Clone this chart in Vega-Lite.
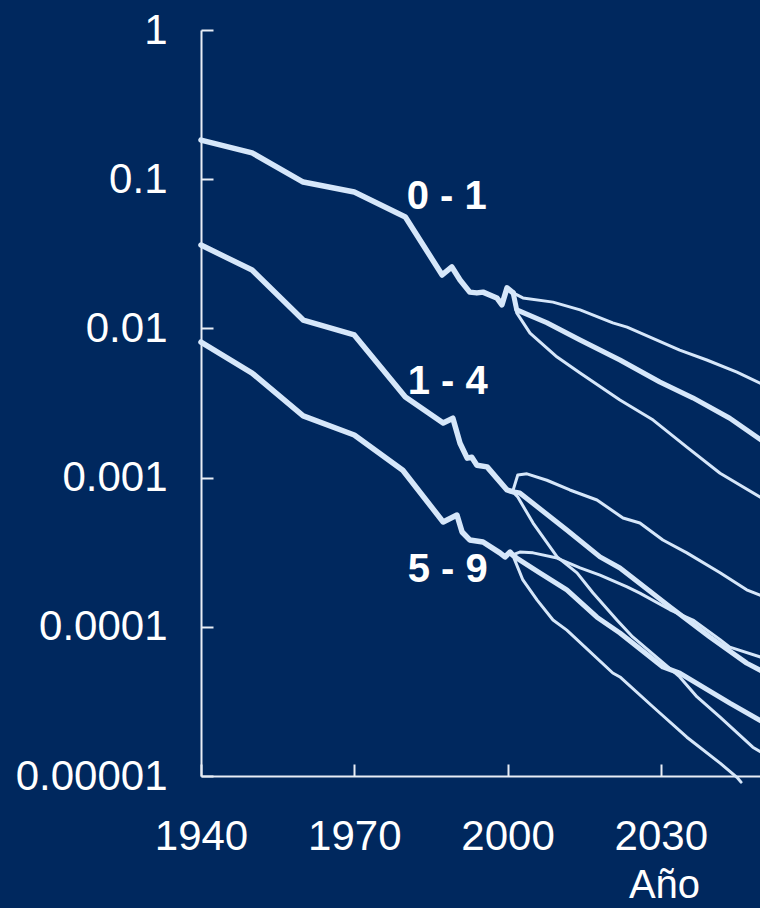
{
  "$schema": "https://vega.github.io/schema/vega-lite/v6.json",
  "width": 562,
  "height": 746,
  "autosize": "none",
  "padding": {"left": 201, "top": 30, "right": 0, "bottom": 132},
  "background": "#00285e",
  "config": {
    "view": {"stroke": null},
    "font": "Liberation Sans, Arial, sans-serif",
    "axis": {
      "domainColor": "#e8edf5",
      "domainWidth": 2,
      "tickColor": "#e8edf5",
      "tickWidth": 2,
      "tickSize": -12,
      "grid": false,
      "labelFlush": false,
      "labelOverlap": false,
      "labelColor": "#ffffff",
      "labelFont": "Liberation Sans, Arial, sans-serif",
      "labelFontSize": 42,
      "titleColor": "#ffffff",
      "titleFont": "Liberation Sans, Arial, sans-serif",
      "titleFontSize": 40,
      "titleFontWeight": "normal"
    }
  },
  "datasets": {
    "tasas": [
      {"grupo": "0 - 1", "tramo": "hist", "anio": 1940, "tasa": 0.183},
      {"grupo": "0 - 1", "tramo": "hist", "anio": 1950, "tasa": 0.150},
      {"grupo": "0 - 1", "tramo": "hist", "anio": 1960, "tasa": 0.0957},
      {"grupo": "0 - 1", "tramo": "hist", "anio": 1970, "tasa": 0.082},
      {"grupo": "0 - 1", "tramo": "hist", "anio": 1980, "tasa": 0.0558},
      {"grupo": "0 - 1", "tramo": "hist", "anio": 1987.2, "tasa": 0.0228},
      {"grupo": "0 - 1", "tramo": "hist", "anio": 1989.1, "tasa": 0.0258},
      {"grupo": "0 - 1", "tramo": "hist", "anio": 1990.7, "tasa": 0.0211},
      {"grupo": "0 - 1", "tramo": "hist", "anio": 1992.6, "tasa": 0.0175},
      {"grupo": "0 - 1", "tramo": "hist", "anio": 1994, "tasa": 0.0173},
      {"grupo": "0 - 1", "tramo": "hist", "anio": 1995.2, "tasa": 0.0175},
      {"grupo": "0 - 1", "tramo": "hist", "anio": 1997.9, "tasa": 0.016},
      {"grupo": "0 - 1", "tramo": "hist", "anio": 1998.9, "tasa": 0.0144},
      {"grupo": "0 - 1", "tramo": "hist", "anio": 1999.9, "tasa": 0.0187},
      {"grupo": "0 - 1", "tramo": "hist", "anio": 2001.1, "tasa": 0.0173},

      {"grupo": "0 - 1", "tramo": "alta", "anio": 2001.1, "tasa": 0.0173},
      {"grupo": "0 - 1", "tramo": "alta", "anio": 2003, "tasa": 0.016},
      {"grupo": "0 - 1", "tramo": "alta", "anio": 2008.9, "tasa": 0.0150},
      {"grupo": "0 - 1", "tramo": "alta", "anio": 2014.2, "tasa": 0.0133},
      {"grupo": "0 - 1", "tramo": "alta", "anio": 2020.6, "tasa": 0.0109},
      {"grupo": "0 - 1", "tramo": "alta", "anio": 2023.4, "tasa": 0.0102},
      {"grupo": "0 - 1", "tramo": "alta", "anio": 2033.7, "tasa": 0.00716},
      {"grupo": "0 - 1", "tramo": "alta", "anio": 2039, "tasa": 0.00614},
      {"grupo": "0 - 1", "tramo": "alta", "anio": 2044.9, "tasa": 0.0051},
      {"grupo": "0 - 1", "tramo": "alta", "anio": 2050, "tasa": 0.0042},

      {"grupo": "0 - 1", "tramo": "media", "anio": 2001.1, "tasa": 0.0173},
      {"grupo": "0 - 1", "tramo": "media", "anio": 2001.8, "tasa": 0.0133},
      {"grupo": "0 - 1", "tramo": "media", "anio": 2007.7, "tasa": 0.0109},
      {"grupo": "0 - 1", "tramo": "media", "anio": 2014.2, "tasa": 0.00836},
      {"grupo": "0 - 1", "tramo": "media", "anio": 2022, "tasa": 0.00614},
      {"grupo": "0 - 1", "tramo": "media", "anio": 2029.8, "tasa": 0.00437},
      {"grupo": "0 - 1", "tramo": "media", "anio": 2036.3, "tasa": 0.00342},
      {"grupo": "0 - 1", "tramo": "media", "anio": 2043.5, "tasa": 0.0025},
      {"grupo": "0 - 1", "tramo": "media", "anio": 2050, "tasa": 0.00175},

      {"grupo": "0 - 1", "tramo": "baja", "anio": 2001.1, "tasa": 0.0173},
      {"grupo": "0 - 1", "tramo": "baja", "anio": 2001.8, "tasa": 0.0127},
      {"grupo": "0 - 1", "tramo": "baja", "anio": 2004.4, "tasa": 0.0093},
      {"grupo": "0 - 1", "tramo": "baja", "anio": 2009.7, "tasa": 0.00643},
      {"grupo": "0 - 1", "tramo": "baja", "anio": 2014.2, "tasa": 0.00502},
      {"grupo": "0 - 1", "tramo": "baja", "anio": 2022, "tasa": 0.00331},
      {"grupo": "0 - 1", "tramo": "baja", "anio": 2028.5, "tasa": 0.00243},
      {"grupo": "0 - 1", "tramo": "baja", "anio": 2035.1, "tasa": 0.0016},
      {"grupo": "0 - 1", "tramo": "baja", "anio": 2041.6, "tasa": 0.00107},
      {"grupo": "0 - 1", "tramo": "baja", "anio": 2050, "tasa": 0.00072},

      {"grupo": "1 - 4", "tramo": "hist", "anio": 1940, "tasa": 0.0362},
      {"grupo": "1 - 4", "tramo": "hist", "anio": 1950, "tasa": 0.0246},
      {"grupo": "1 - 4", "tramo": "hist", "anio": 1960, "tasa": 0.01138},
      {"grupo": "1 - 4", "tramo": "hist", "anio": 1970, "tasa": 0.00904},
      {"grupo": "1 - 4", "tramo": "hist", "anio": 1980, "tasa": 0.00347},
      {"grupo": "1 - 4", "tramo": "hist", "anio": 1987.4, "tasa": 0.00232},
      {"grupo": "1 - 4", "tramo": "hist", "anio": 1989.3, "tasa": 0.0025},
      {"grupo": "1 - 4", "tramo": "hist", "anio": 1990.7, "tasa": 0.0017},
      {"grupo": "1 - 4", "tramo": "hist", "anio": 1992.1, "tasa": 0.00135},
      {"grupo": "1 - 4", "tramo": "hist", "anio": 1993, "tasa": 0.00137},
      {"grupo": "1 - 4", "tramo": "hist", "anio": 1994, "tasa": 0.00121},
      {"grupo": "1 - 4", "tramo": "hist", "anio": 1996, "tasa": 0.00118},
      {"grupo": "1 - 4", "tramo": "hist", "anio": 1999.9, "tasa": 0.000826},
      {"grupo": "1 - 4", "tramo": "hist", "anio": 2001, "tasa": 0.000805},

      {"grupo": "1 - 4", "tramo": "alta", "anio": 2001, "tasa": 0.000805},
      {"grupo": "1 - 4", "tramo": "alta", "anio": 2002, "tasa": 0.00104},
      {"grupo": "1 - 4", "tramo": "alta", "anio": 2003.8, "tasa": 0.00106},
      {"grupo": "1 - 4", "tramo": "alta", "anio": 2007.7, "tasa": 0.00096},
      {"grupo": "1 - 4", "tramo": "alta", "anio": 2012.2, "tasa": 0.000826},
      {"grupo": "1 - 4", "tramo": "alta", "anio": 2017.5, "tasa": 0.000708},
      {"grupo": "1 - 4", "tramo": "alta", "anio": 2022.6, "tasa": 0.000536},
      {"grupo": "1 - 4", "tramo": "alta", "anio": 2025.9, "tasa": 0.000496},
      {"grupo": "1 - 4", "tramo": "alta", "anio": 2030.4, "tasa": 0.000382},
      {"grupo": "1 - 4", "tramo": "alta", "anio": 2035.1, "tasa": 0.000313},
      {"grupo": "1 - 4", "tramo": "alta", "anio": 2041.6, "tasa": 0.00023},
      {"grupo": "1 - 4", "tramo": "alta", "anio": 2046.8, "tasa": 0.000177},
      {"grupo": "1 - 4", "tramo": "alta", "anio": 2050, "tasa": 0.00016},

      {"grupo": "1 - 4", "tramo": "media", "anio": 2001, "tasa": 0.000805},
      {"grupo": "1 - 4", "tramo": "media", "anio": 2002.4, "tasa": 0.000788},
      {"grupo": "1 - 4", "tramo": "media", "anio": 2011.6, "tasa": 0.000446},
      {"grupo": "1 - 4", "tramo": "media", "anio": 2018.1, "tasa": 0.000294},
      {"grupo": "1 - 4", "tramo": "media", "anio": 2022, "tasa": 0.000248},
      {"grupo": "1 - 4", "tramo": "media", "anio": 2031.8, "tasa": 0.000136},
      {"grupo": "1 - 4", "tramo": "media", "anio": 2039.6, "tasa": 0.0000855},
      {"grupo": "1 - 4", "tramo": "media", "anio": 2046.8, "tasa": 0.0000571},
      {"grupo": "1 - 4", "tramo": "media", "anio": 2050, "tasa": 0.00005},

      {"grupo": "1 - 4", "tramo": "baja", "anio": 2001, "tasa": 0.000805},
      {"grupo": "1 - 4", "tramo": "baja", "anio": 2002, "tasa": 0.000741},
      {"grupo": "1 - 4", "tramo": "baja", "anio": 2005, "tasa": 0.000496},
      {"grupo": "1 - 4", "tramo": "baja", "anio": 2009.7, "tasa": 0.000294},
      {"grupo": "1 - 4", "tramo": "baja", "anio": 2013.6, "tasa": 0.00023},
      {"grupo": "1 - 4", "tramo": "baja", "anio": 2016.7, "tasa": 0.000169},
      {"grupo": "1 - 4", "tramo": "baja", "anio": 2021.4, "tasa": 0.000111},
      {"grupo": "1 - 4", "tramo": "baja", "anio": 2024.5, "tasa": 0.0000855},
      {"grupo": "1 - 4", "tramo": "baja", "anio": 2033.7, "tasa": 0.0000461},
      {"grupo": "1 - 4", "tramo": "baja", "anio": 2037.1, "tasa": 0.0000339},
      {"grupo": "1 - 4", "tramo": "baja", "anio": 2041.6, "tasa": 0.0000248},
      {"grupo": "1 - 4", "tramo": "baja", "anio": 2048, "tasa": 0.0000156},
      {"grupo": "1 - 4", "tramo": "baja", "anio": 2050, "tasa": 0.0000142},

      {"grupo": "5 - 9", "tramo": "hist", "anio": 1940, "tasa": 0.0081},
      {"grupo": "5 - 9", "tramo": "hist", "anio": 1950, "tasa": 0.00502},
      {"grupo": "5 - 9", "tramo": "hist", "anio": 1960, "tasa": 0.00259},
      {"grupo": "5 - 9", "tramo": "hist", "anio": 1970, "tasa": 0.00193},
      {"grupo": "5 - 9", "tramo": "hist", "anio": 1979.5, "tasa": 0.00112},
      {"grupo": "5 - 9", "tramo": "hist", "anio": 1987.4, "tasa": 0.000504},
      {"grupo": "5 - 9", "tramo": "hist", "anio": 1990.1, "tasa": 0.000561},
      {"grupo": "5 - 9", "tramo": "hist", "anio": 1991.1, "tasa": 0.000432},
      {"grupo": "5 - 9", "tramo": "hist", "anio": 1992.6, "tasa": 0.000382},
      {"grupo": "5 - 9", "tramo": "hist", "anio": 1995.2, "tasa": 0.00037},
      {"grupo": "5 - 9", "tramo": "hist", "anio": 1998.5, "tasa": 0.000313},
      {"grupo": "5 - 9", "tramo": "hist", "anio": 1999.5, "tasa": 0.000294},
      {"grupo": "5 - 9", "tramo": "hist", "anio": 2000.5, "tasa": 0.000317},
      {"grupo": "5 - 9", "tramo": "hist", "anio": 2001, "tasa": 0.000303},

      {"grupo": "5 - 9", "tramo": "alta", "anio": 2001, "tasa": 0.000303},
      {"grupo": "5 - 9", "tramo": "alta", "anio": 2002.4, "tasa": 0.000317},
      {"grupo": "5 - 9", "tramo": "alta", "anio": 2005, "tasa": 0.000313},
      {"grupo": "5 - 9", "tramo": "alta", "anio": 2009.7, "tasa": 0.000289},
      {"grupo": "5 - 9", "tramo": "alta", "anio": 2014.2, "tasa": 0.000248},
      {"grupo": "5 - 9", "tramo": "alta", "anio": 2018.1, "tasa": 0.000222},
      {"grupo": "5 - 9", "tramo": "alta", "anio": 2023.4, "tasa": 0.000185},
      {"grupo": "5 - 9", "tramo": "alta", "anio": 2025.9, "tasa": 0.000168},
      {"grupo": "5 - 9", "tramo": "alta", "anio": 2031.8, "tasa": 0.00013},
      {"grupo": "5 - 9", "tramo": "alta", "anio": 2036.3, "tasa": 0.000111},
      {"grupo": "5 - 9", "tramo": "alta", "anio": 2041.6, "tasa": 0.000082},
      {"grupo": "5 - 9", "tramo": "alta", "anio": 2043.5, "tasa": 0.000073},
      {"grupo": "5 - 9", "tramo": "alta", "anio": 2050, "tasa": 0.000062},

      {"grupo": "5 - 9", "tramo": "media", "anio": 2001, "tasa": 0.000303},
      {"grupo": "5 - 9", "tramo": "media", "anio": 2001.8, "tasa": 0.000289},
      {"grupo": "5 - 9", "tramo": "media", "anio": 2006.3, "tasa": 0.00023},
      {"grupo": "5 - 9", "tramo": "media", "anio": 2011.6, "tasa": 0.000177},
      {"grupo": "5 - 9", "tramo": "media", "anio": 2017.5, "tasa": 0.000116},
      {"grupo": "5 - 9", "tramo": "media", "anio": 2022, "tasa": 0.0000908},
      {"grupo": "5 - 9", "tramo": "media", "anio": 2030.4, "tasa": 0.0000538},
      {"grupo": "5 - 9", "tramo": "media", "anio": 2033.7, "tasa": 0.000049},
      {"grupo": "5 - 9", "tramo": "media", "anio": 2043.5, "tasa": 0.0000308},
      {"grupo": "5 - 9", "tramo": "media", "anio": 2050, "tasa": 0.000023},

      {"grupo": "5 - 9", "tramo": "baja", "anio": 2001, "tasa": 0.000303},
      {"grupo": "5 - 9", "tramo": "baja", "anio": 2001.4, "tasa": 0.000281},
      {"grupo": "5 - 9", "tramo": "baja", "anio": 2003, "tasa": 0.000206},
      {"grupo": "5 - 9", "tramo": "baja", "anio": 2005.8, "tasa": 0.000151},
      {"grupo": "5 - 9", "tramo": "baja", "anio": 2008.9, "tasa": 0.000111},
      {"grupo": "5 - 9", "tramo": "baja", "anio": 2011.6, "tasa": 0.000095},
      {"grupo": "5 - 9", "tramo": "baja", "anio": 2020.6, "tasa": 0.000049},
      {"grupo": "5 - 9", "tramo": "baja", "anio": 2022, "tasa": 0.0000461},
      {"grupo": "5 - 9", "tramo": "baja", "anio": 2028.5, "tasa": 0.000029},
      {"grupo": "5 - 9", "tramo": "baja", "anio": 2035.1, "tasa": 0.0000182},
      {"grupo": "5 - 9", "tramo": "baja", "anio": 2041.6, "tasa": 0.0000122},
      {"grupo": "5 - 9", "tramo": "baja", "anio": 2044.9, "tasa": 0.0000098},
      {"grupo": "5 - 9", "tramo": "baja", "anio": 2045.7, "tasa": 0.0000091}
    ],
    "etiquetas": [
      {"grupo": "0 - 1", "anio": 1988.1, "tasa": 0.076},
      {"grupo": "1 - 4", "anio": 1988.3, "tasa": 0.00437},
      {"grupo": "5 - 9", "anio": 1988.3, "tasa": 0.00024}
    ]
  },
  "encoding": {
    "x": {
      "field": "anio",
      "type": "quantitative",
      "scale": {"domain": [1940, 2050], "nice": false, "zero": false},
      "axis": {
        "values": [1940, 1970, 2000, 2030],
        "format": "d",
        "labelPadding": 52,
        "title": "Año",
        "titleX": 463,
        "titleY": 121,
        "titleAlign": "center",
        "titleBaseline": "alphabetic"
      }
    },
    "y": {
      "field": "tasa",
      "type": "quantitative",
      "scale": {"type": "log", "domain": [0.00001, 1], "nice": false},
      "axis": {
        "values": [1, 0.1, 0.01, 0.001, 0.0001, 0.00001],
        "format": ".5~f",
        "labelPadding": 46,
        "title": null
      }
    }
  },
  "layer": [
    {
      "data": {"name": "tasas"},
      "transform": [{"filter": "datum.tramo === 'alta' || datum.tramo === 'baja'"}],
      "mark": {"type": "line", "color": "#d6e7fa", "strokeWidth": 3, "strokeJoin": "round", "strokeCap": "round"},
      "encoding": {"detail": [{"field": "grupo"}, {"field": "tramo"}]}
    },
    {
      "data": {"name": "tasas"},
      "transform": [{"filter": "datum.tramo === 'media'"}],
      "mark": {"type": "line", "color": "#d6e7fa", "strokeWidth": 5, "strokeJoin": "round", "strokeCap": "round"},
      "encoding": {"detail": {"field": "grupo"}}
    },
    {
      "data": {"name": "tasas"},
      "transform": [{"filter": "datum.tramo === 'hist'"}],
      "mark": {"type": "line", "color": "#d6e7fa", "strokeWidth": 5.5, "strokeJoin": "round", "strokeCap": "round"},
      "encoding": {"detail": {"field": "grupo"}}
    },
    {
      "data": {"name": "etiquetas"},
      "mark": {"type": "text", "color": "#ffffff", "fontSize": 40, "fontWeight": "bold", "align": "center", "baseline": "middle"},
      "encoding": {"text": {"field": "grupo"}}
    }
  ]
}
